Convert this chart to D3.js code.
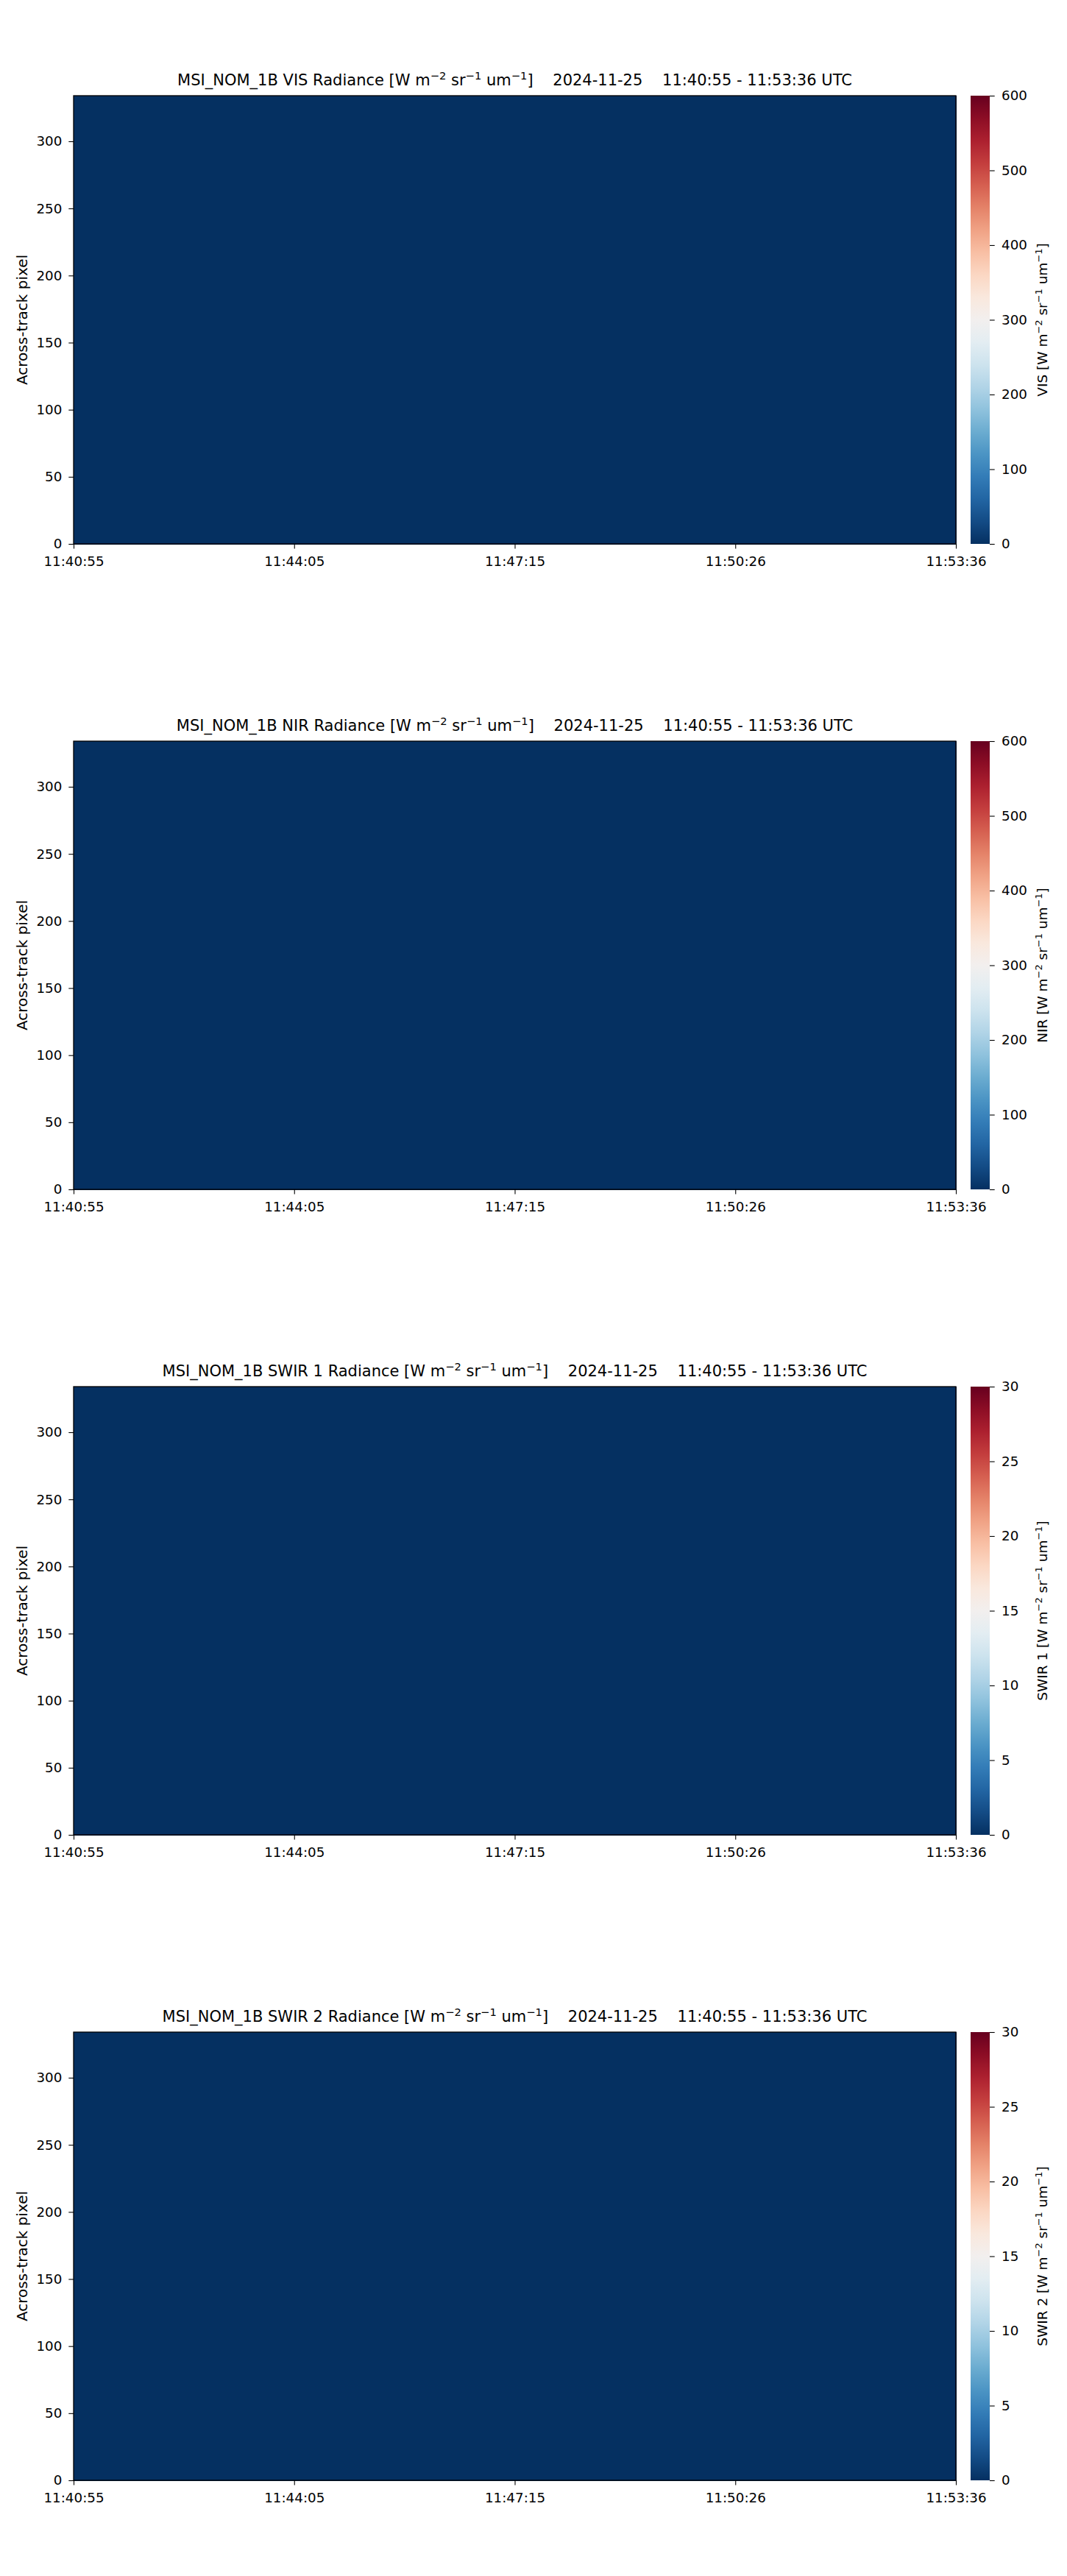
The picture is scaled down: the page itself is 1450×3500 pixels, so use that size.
<!DOCTYPE html>
<html>
<head>
<meta charset="utf-8">
<script src="https://cdn.jsdelivr.net/npm/d3@7"></script>
<style>
  body { margin: 0; background: #fff; }
  svg { display: block; font-family: "DejaVu Sans", sans-serif; }
</style>
</head>
<body>
<svg id="chart" width="1450" height="3500"></svg>
<script>
// ---- Data ----
const bandNames = ["VIS", "NIR", "SWIR 1", "SWIR 2"];
const colorMax = [600, 600, 30, 30];
const colorTicks = [
  [0, 100, 200, 300, 400, 500, 600],
  [0, 100, 200, 300, 400, 500, 600],
  [0, 5, 10, 15, 20, 25, 30],
  [0, 5, 10, 15, 20, 25, 30]
];
const dateLabel = "2024-11-25";
const startTime = "11:40:55";
const endTime = "11:53:36";
const xTickLabels = ["11:40:55", "11:44:05", "11:47:15", "11:50:26", "11:53:36"];
const yTicks = [0, 50, 100, 150, 200, 250, 300];
const pixelMax = 334;
// time bin edges (seconds since 11:40:55) and pixel bin edges
const timeEdges = [0, 190, 380, 571, 761];
const pixelEdges = [0, 167, 334];
// radiance values per band: [timeBin][pixelBin] (scene is uniformly 0)
const visValues   = [[0, 0], [0, 0], [0, 0], [0, 0]];
const nirValues   = [[0, 0], [0, 0], [0, 0], [0, 0]];
const swir1Values = [[0, 0], [0, 0], [0, 0], [0, 0]];
const swir2Values = [[0, 0], [0, 0], [0, 0], [0, 0]];
const bandValues = [visValues, nirValues, swir1Values, swir2Values];

// ---- Layout ----
const svg = d3.select("#chart");
const left = 100, right = 1299, top0 = 130, plotH = 609, pitch = 877;
const cbLeft = 1319, cbRight = 1345;
const tickFont = 18.3, titleFont = 21, ylabFont = 20, cbLabFont = 18.5;

const t0 = new Date(2024, 10, 25, 11, 40, 55);
const toDate = s => new Date(t0.getTime() + s * 1000);
const x = d3.scaleTime().domain([toDate(0), toDate(761)]).range([left, right]);
const xTickVals = xTickLabels.map((l, i) => toDate(761 * i / 4));

const cmap = d3.interpolateRdBu;

function supText(sel, parts) {
  parts.forEach(([t, s]) => {
    const ts = sel.append("tspan").text(t);
    if (s) ts.attr("baseline-shift", "super").attr("font-size", "70%");
  });
}
const unitParts = [["[W m", false], ["\u22122", true], [" sr", false], ["\u22121", true], [" um", false], ["\u22121", true], ["]", false]];

bandNames.forEach((band, bi) => {
  const top = top0 + bi * pitch, bottom = top + plotH;
  const g = svg.append("g");
  const y = d3.scaleLinear().domain([0, pixelMax]).range([bottom, top]);
  const c = d3.scaleLinear().domain([0, colorMax[bi]]).range([0, 1]);
  const color = v => cmap(1 - c(v));

  const cells = [];
  bandValues[bi].forEach((row, ti) => row.forEach((v, pi) => cells.push({ti, pi, v})));
  g.selectAll("rect.cell").data(cells).enter().append("rect")
    .attr("x", d => x(toDate(timeEdges[d.ti])))
    .attr("width", d => x(toDate(timeEdges[d.ti + 1])) - x(toDate(timeEdges[d.ti])))
    .attr("y", d => y(pixelEdges[d.pi + 1]))
    .attr("height", d => y(pixelEdges[d.pi]) - y(pixelEdges[d.pi + 1]))
    .attr("fill", d => color(d.v))
    .attr("stroke", d => color(d.v)).attr("stroke-width", 1)
    .attr("shape-rendering", "crispEdges");

  g.append("rect").attr("x", left).attr("y", top).attr("width", right - left).attr("height", plotH)
    .attr("fill", "none").attr("stroke", "#000").attr("stroke-width", 1.3);

  const xa = g.append("g").attr("transform", `translate(0,${bottom})`)
    .call(d3.axisBottom(x).tickValues(xTickVals).tickFormat((d, i) => xTickLabels[i]).tickSize(6.5).tickPadding(10.5));
  xa.select(".domain").remove();
  xa.selectAll("line").attr("stroke", "#000").attr("stroke-width", 1.1);
  xa.selectAll("text").attr("font-size", tickFont).attr("font-family", "DejaVu Sans").attr("fill", "#000");

  const ya = g.append("g").attr("transform", `translate(${left},0)`)
    .call(d3.axisLeft(y).tickValues(yTicks).tickSize(6.7).tickPadding(9));
  ya.select(".domain").remove();
  ya.selectAll("line").attr("stroke", "#000").attr("stroke-width", 1.1);
  ya.selectAll("text").attr("font-size", tickFont).attr("font-family", "DejaVu Sans").attr("fill", "#000");

  g.append("text").attr("transform", `translate(37,${(top + bottom) / 2}) rotate(-90)`)
    .attr("text-anchor", "middle").attr("font-size", ylabFont).text("Across-track pixel");

  const title = g.append("text").attr("x", (left + right) / 2).attr("y", top - 14)
    .attr("text-anchor", "middle").attr("font-size", titleFont).attr("xml:space", "preserve");
  supText(title, [[`MSI_NOM_1B ${band} Radiance `, false]].concat(unitParts)
    .concat([[`    ${dateLabel}    ${startTime} - ${endTime} UTC`, false]]));

  const defs = svg.append("defs");
  const gid = "grad" + bi;
  const grad = defs.append("linearGradient").attr("id", gid)
    .attr("x1", 0).attr("y1", 1).attr("x2", 0).attr("y2", 0);
  d3.range(0, 1.0001, 0.05).forEach(t => {
    grad.append("stop").attr("offset", t).attr("stop-color", cmap(1 - t));
  });
  const cy = d3.scaleLinear().domain([0, colorMax[bi]]).range([bottom, top]);
  g.append("rect").attr("x", cbLeft).attr("y", top).attr("width", cbRight - cbLeft).attr("height", plotH)
    .attr("fill", `url(#${gid})`);
  const ca = g.append("g").attr("transform", `translate(${cbRight},0)`)
    .call(d3.axisRight(cy).tickValues(colorTicks[bi]).tickSize(6.7).tickPadding(9.3));
  ca.select(".domain").remove();
  ca.selectAll("line").attr("stroke", "#000").attr("stroke-width", 1.1);
  ca.selectAll("text").attr("font-size", tickFont).attr("font-family", "DejaVu Sans").attr("fill", "#000");

  const cl = g.append("text").attr("transform", `translate(1423,${(top + bottom) / 2}) rotate(-90)`)
    .attr("text-anchor", "middle").attr("font-size", cbLabFont);
  supText(cl, [[`${band} `, false]].concat(unitParts));
});
</script>
</body>
</html>
